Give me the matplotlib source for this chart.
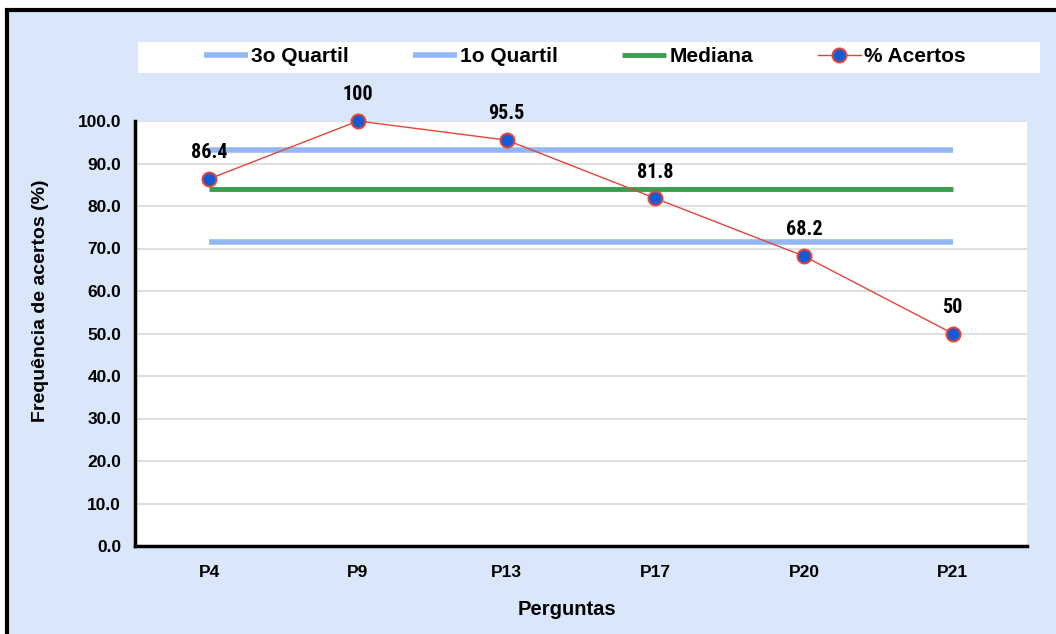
import matplotlib.pyplot as plt
from matplotlib.patches import Rectangle

plt.rcParams['font.family'] = ['Liberation Sans', 'DejaVu Sans']
plt.rcParams['font.weight'] = 'bold'

perguntas = ['P4', 'P9', 'P13', 'P17', 'P20', 'P21']
acertos = [86.4, 100, 95.5, 81.8, 68.2, 50]
quartil3 = [93.2, 93.2, 93.2, 93.2, 93.2, 93.2]
quartil1 = [71.6, 71.6, 71.6, 71.6, 71.6, 71.6]
mediana = [84.1, 84.1, 84.1, 84.1, 84.1, 84.1]
yticks = [0, 10, 20, 30, 40, 50, 60, 70, 80, 90, 100]

fig = plt.figure(figsize=(10.56, 6.34), dpi=100)
fig.patch.set_facecolor('white')

# moldura azul com borda preta
fundo = Rectangle((7/1056, -0.02), 1.05, 0.02 + (634-10)/634, transform=fig.transFigure,
                  facecolor='#DAE7FA', edgecolor='black', lw=3, zorder=-10)
fig.patches.append(fundo)

# caixa branca da legenda
caixa = Rectangle((138/1056, (634-73)/634), 902/1056, 31/634, transform=fig.transFigure,
                  facecolor='white', edgecolor='none', zorder=-5)
fig.patches.append(caixa)

ax = fig.add_axes([135/1056, 88/634, 892/1056, 425/634])
ax.set_facecolor('white')

x = range(len(perguntas))
ax.plot(x, quartil3, color='#93B7F2', lw=4, solid_capstyle='butt', label='3o Quartil', zorder=2)
ax.plot(x, quartil1, color='#93B7F2', lw=4, solid_capstyle='butt', label='1o Quartil', zorder=2)
ax.plot(x, mediana, color='#3A9E4F', lw=3.5, solid_capstyle='butt', label='Mediana', zorder=2)
ax.plot(x, acertos, color='#E0463C', lw=1, marker='o', markersize=10,
        markerfacecolor='#1459D6', markeredgecolor='#E0463C', markeredgewidth=1.5,
        label='% Acertos', zorder=3, clip_on=False)

for xi, v in zip(x, acertos):
    ax.annotate(f'{v:g}', (xi, v), xytext=(0, 12), textcoords='offset points',
                ha='center', va='bottom', fontsize=14.5, fontweight='bold',
                family=['Roboto Condensed', 'Liberation Sans'])

ax.set_xlim(-0.5, len(perguntas) - 0.5)
ax.set_ylim(0, 100)
ax.set_xticks(list(x))
ax.set_xticklabels(perguntas)
ax.set_yticks(yticks)
ax.set_yticklabels([f'{t:.1f}' for t in yticks])
ax.tick_params(length=0, labelsize=12.5, pad=10)
ax.tick_params(axis='x', pad=14)
ax.grid(axis='y', color='#D9D9D9', lw=1.2)
ax.set_axisbelow(True)
for s in ['top', 'right']:
    ax.spines[s].set_visible(False)
for s in ['left', 'bottom']:
    ax.spines[s].set_linewidth(2.5)
    ax.spines[s].set_color('black')

ax.set_xlabel('Perguntas', fontsize=14.5, fontweight='bold')
ax.set_ylabel('Frequência de acertos (%)', fontsize=14, fontweight='bold')
ax.xaxis.set_label_coords(0.484, -0.127)
ax.yaxis.set_label_coords(-0.0964, 0.576)

leg = fig.legend(loc='center', bbox_to_anchor=(585/1056, (634-57)/634),
                 ncol=4, frameon=False, fontsize=15, columnspacing=3.1,
                 handlelength=2.1, handletextpad=0.15)

fig.savefig('out.png', dpi=100)
